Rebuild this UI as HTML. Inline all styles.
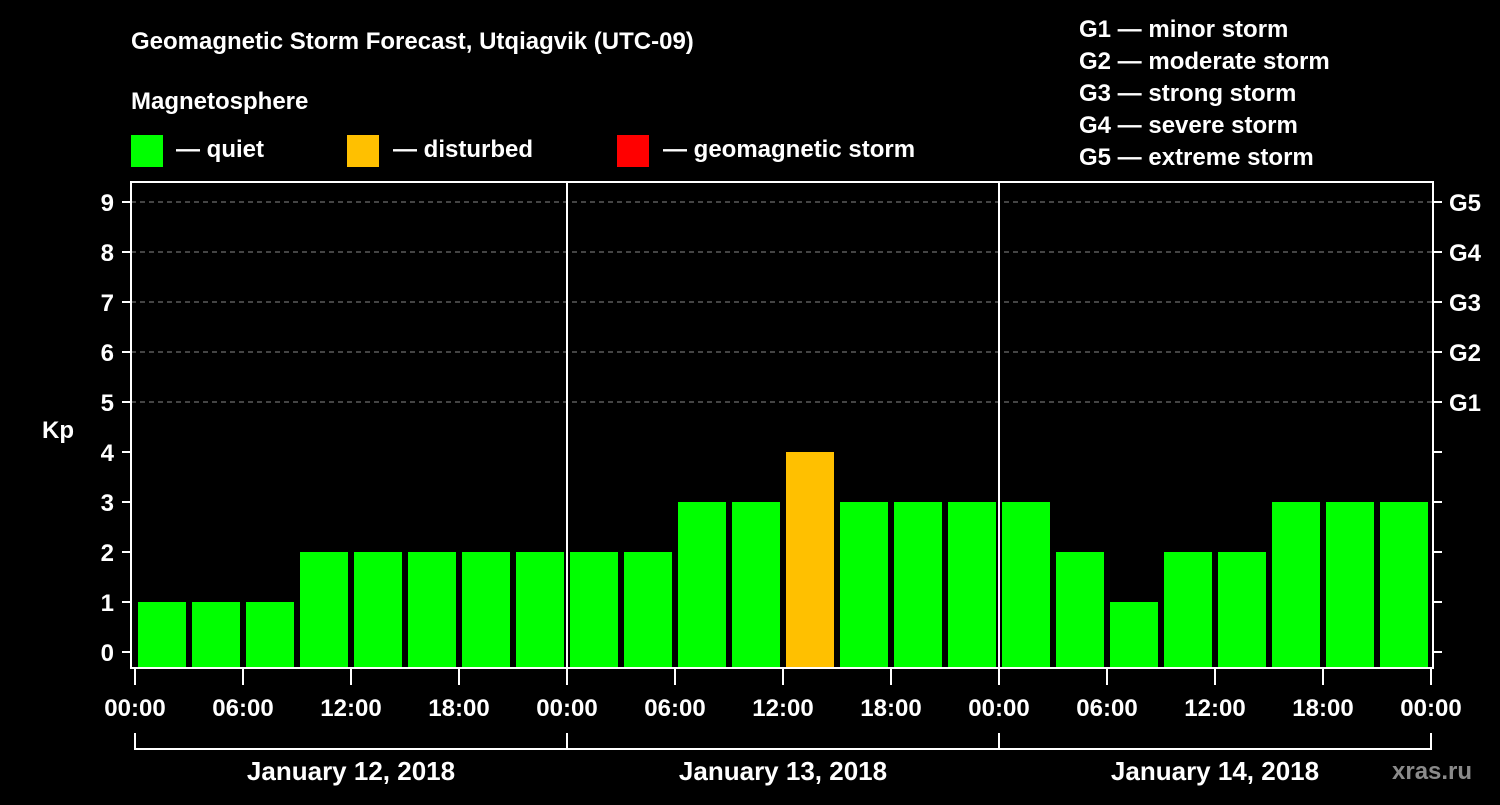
<!DOCTYPE html>
<html><head><meta charset="utf-8"><style>
body{margin:0;background:#000;width:1500px;height:800px;overflow:hidden}
svg text{font-family:"Liberation Sans",Arial,sans-serif;font-weight:bold;fill:#fff}
</style></head><body>
<svg id="c" width="1500" height="800">
<text x="131" y="49" font-size="24">Geomagnetic Storm Forecast, Utqiagvik (UTC-09)</text>
<text x="131" y="109" font-size="24">Magnetosphere</text>
<g>
<rect x="131" y="135" width="32" height="32" fill="#00ff00"/>
<text x="176" y="157" font-size="24">— quiet</text>
<rect x="347" y="135" width="32" height="32" fill="#ffc000"/>
<text x="393" y="157" font-size="24">— disturbed</text>
<rect x="617" y="135" width="32" height="32" fill="#ff0000"/>
<text x="663" y="157" font-size="24">— geomagnetic storm</text>
</g>
<g font-size="24">
<text x="1079" y="37">G1 — minor storm</text>
<text x="1079" y="69">G2 — moderate storm</text>
<text x="1079" y="101">G3 — strong storm</text>
<text x="1079" y="133">G4 — severe storm</text>
<text x="1079" y="165">G5 — extreme storm</text>
</g>
<text x="42" y="438" font-size="24">Kp</text>
<text x="1392" y="779" font-size="24" fill="#888" style="fill:#8a8a8a">xras.ru</text>
<g id="plot"></g>
</svg>
<script>
const kpValues=[1,1,1,2,2,2,2,2, 2,2,3,3,4,3,3,3, 3,2,1,2,2,3,3,3];
const dayLabels=["January 12, 2018","January 13, 2018","January 14, 2018"];
const hourLabels=["00:00","06:00","12:00","18:00"];
const gLabels=["G1","G2","G3","G4","G5"];
const NS="http://www.w3.org/2000/svg";
const g=document.getElementById('plot');
const X0=135,DAY=432,L=131,R=1433,T=182,B=668;
const xs=h=>X0+h*DAY/24;
const ys=v=>652-v*50;
function mk(t,a,p){const e=document.createElementNS(NS,t);for(const k in a)e.setAttribute(k,a[k]);(p||g).appendChild(e);return e;}
// gridlines
for(let v=5;v<=9;v++){const l=mk('line',{x1:L,x2:R,y1:ys(v),y2:ys(v),stroke:'#888','stroke-dasharray':'5,4','stroke-width':1});

}
// bars
kpValues.forEach((v,i)=>{const c=v>=5?'#ff0000':(v>=4?'#ffc000':'#00ff00');
const r=mk('rect',{x:xs(i*3)+3,y:ys(v),width:DAY/8-6,height:B-1-ys(v),fill:c});

});
// day separators
for(let d=1;d<3;d++){const l=mk('line',{x1:xs(d*24),x2:xs(d*24),y1:T,y2:B,stroke:'#fff','stroke-width':2});

}
// frame
const f=mk('rect',{x:L,y:T,width:R-L,height:B-T,fill:'none',stroke:'#fff','stroke-width':2});


// y ticks
for(let v=0;v<=9;v++){
const t1=mk('line',{x1:122,x2:L,y1:ys(v),y2:ys(v),stroke:'#fff','stroke-width':2});


const t2=mk('line',{x1:R,x2:1442,y1:ys(v),y2:ys(v),stroke:'#fff','stroke-width':2});


const tx=mk('text',{x:114,y:ys(v)+9,'font-size':24,'text-anchor':'end'});tx.textContent=v;

}
gLabels.forEach((s,i)=>{const tx=mk('text',{x:1449,y:ys(5+i)+9,'font-size':24});tx.textContent=s;

});
// x ticks
for(let h=0;h<=72;h+=6){
const t=mk('line',{x1:xs(h),x2:xs(h),y1:B,y2:685,stroke:'#fff','stroke-width':2});


const tx=mk('text',{x:xs(h),y:716,'font-size':24,'text-anchor':'middle'});tx.textContent=hourLabels[(h/6)%4];

}
// day brackets
const br=mk('line',{x1:xs(0),x2:xs(72),y1:749,y2:749,stroke:'#fff','stroke-width':2});


for(let d=0;d<=3;d++){const l=mk('line',{x1:xs(d*24),x2:xs(d*24),y1:733,y2:750,stroke:'#fff','stroke-width':2});

}
dayLabels.forEach((s,d)=>{const tx=mk('text',{x:xs(d*24+12),y:780,'font-size':26,'text-anchor':'middle'});tx.textContent=s;

});
</script>
</body></html>
